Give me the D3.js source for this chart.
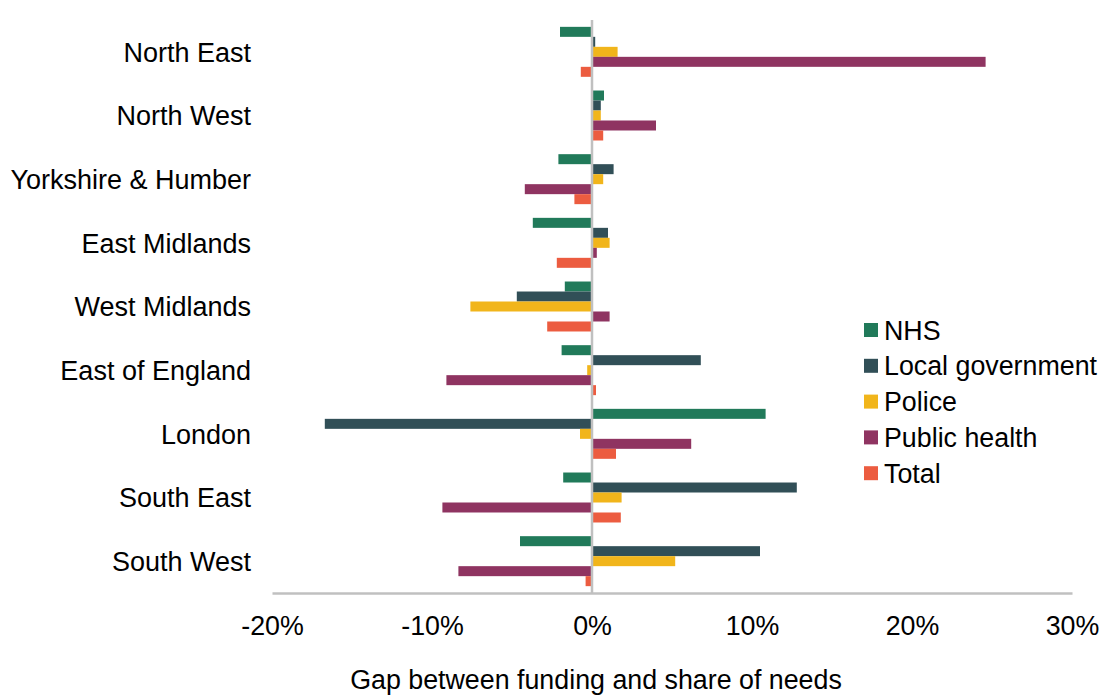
<!DOCTYPE html>
<html>
<head>
<meta charset="utf-8">
<script src="https://cdn.jsdelivr.net/npm/d3@7"></script>
<style>
  html, body { margin: 0; padding: 0; background: #fff; }
  svg { display: block; font-family: "Liberation Sans", Arial, sans-serif; }
</style>
</head>
<body>
<svg id="chart" width="1100" height="695"></svg>
<script>
const regions = ["North East", "North West", "Yorkshire & Humber", "East Midlands", "West Midlands", "East of England", "London", "South East", "South West"];
const seriesNames = ["NHS", "Local government", "Police", "Public health", "Total"];
const nhs       = [-2.0, 0.75, -2.1, -3.7, -1.7, -1.9, 10.85, -1.8, -4.5];
const localGov  = [0.2, 0.55, 1.35, 1.0, -4.7, 6.8, -16.7, 12.8, 10.5];
const police    = [1.6, 0.55, 0.7, 1.1, -7.6, -0.3, -0.75, 1.85, 5.2];
const pubHealth = [24.6, 4.0, -4.2, 0.3, 1.1, -9.1, 6.2, -9.35, -8.35];
const total     = [-0.7, 0.7, -1.1, -2.2, -2.8, 0.25, 1.5, 1.8, -0.4];
const xTicks = [-20, -10, 0, 10, 20, 30];
const colors = ["#217A5A", "#314F57", "#F1B51B", "#8F3461", "#EC5C40"];

const seriesValues = [nhs, localGov, police, pubHealth, total];
const FS = 26.8;

const svg = d3.select("#chart");
const x = d3.scaleLinear().domain([-20, 30]).range([272, 1072]);
const y0 = d3.scaleBand().domain(regions).range([20, 593]).paddingInner(0.215).paddingOuter(0.1075);
const y1 = d3.scaleBand().domain(seriesNames).range([0, y0.bandwidth()]);
const color = d3.scaleOrdinal().domain(seriesNames).range(colors);

// bars
const groups = svg.append("g").selectAll("g")
  .data(regions)
  .join("g")
  .attr("transform", d => `translate(0,${y0(d)})`);

groups.selectAll("rect")
  .data((r, i) => seriesNames.map((s, j) => ({ s, v: seriesValues[j][i] })))
  .join("rect")
  .attr("x", d => d.v < 0 ? x(d.v) : x(0))
  .attr("width", d => Math.abs(x(d.v) - x(0)))
  .attr("y", d => y1(d.s))
  .attr("height", y1.bandwidth())
  .attr("fill", d => color(d.s));

// zero line
svg.append("line")
  .attr("x1", x(0)).attr("x2", x(0))
  .attr("y1", 20).attr("y2", 593)
  .attr("stroke", "#c0c0c0").attr("stroke-width", 2.5);

// bottom axis
const xAxis = d3.axisBottom(x).tickValues(xTicks).tickSize(0).tickPadding(0)
  .tickFormat(d => d + "%");
const gx = svg.append("g").attr("transform", "translate(0,593)").call(xAxis);
gx.select(".domain").attr("stroke", "#c0c0c0").attr("stroke-width", 2.5);
gx.selectAll("text")
  .attr("y", 42).attr("dy", null)
  .attr("font-size", FS).attr("fill", "#000")
  .attr("font-family", "Liberation Sans, Arial, sans-serif");

// category labels
const yAxis = d3.axisLeft(y0).tickSize(0).tickPadding(0);
const gy = svg.append("g").attr("transform", "translate(251,0)").call(yAxis);
gy.select(".domain").remove();
gy.selectAll("text")
  .attr("font-size", 27).attr("fill", "#000").attr("dy", "0.36em")
  .attr("font-family", "Liberation Sans, Arial, sans-serif");

// axis title
svg.append("text")
  .attr("x", 596).attr("y", 689)
  .attr("text-anchor", "middle")
  .attr("font-size", FS).attr("fill", "#000")
  .text("Gap between funding and share of needs");

// legend
const legend = svg.append("g").attr("transform", "translate(864,330)");
const li = legend.selectAll("g").data(seriesNames).join("g")
  .attr("transform", (d, i) => `translate(0,${i * 35.8})`);
li.append("rect").attr("x", 0).attr("y", -7).attr("width", 14).attr("height", 14)
  .attr("fill", d => color(d));
li.append("text").attr("x", 20).attr("y", 0).attr("dy", "0.36em")
  .attr("font-size", FS).attr("fill", "#000")
  .text(d => d);
</script>
</body>
</html>
